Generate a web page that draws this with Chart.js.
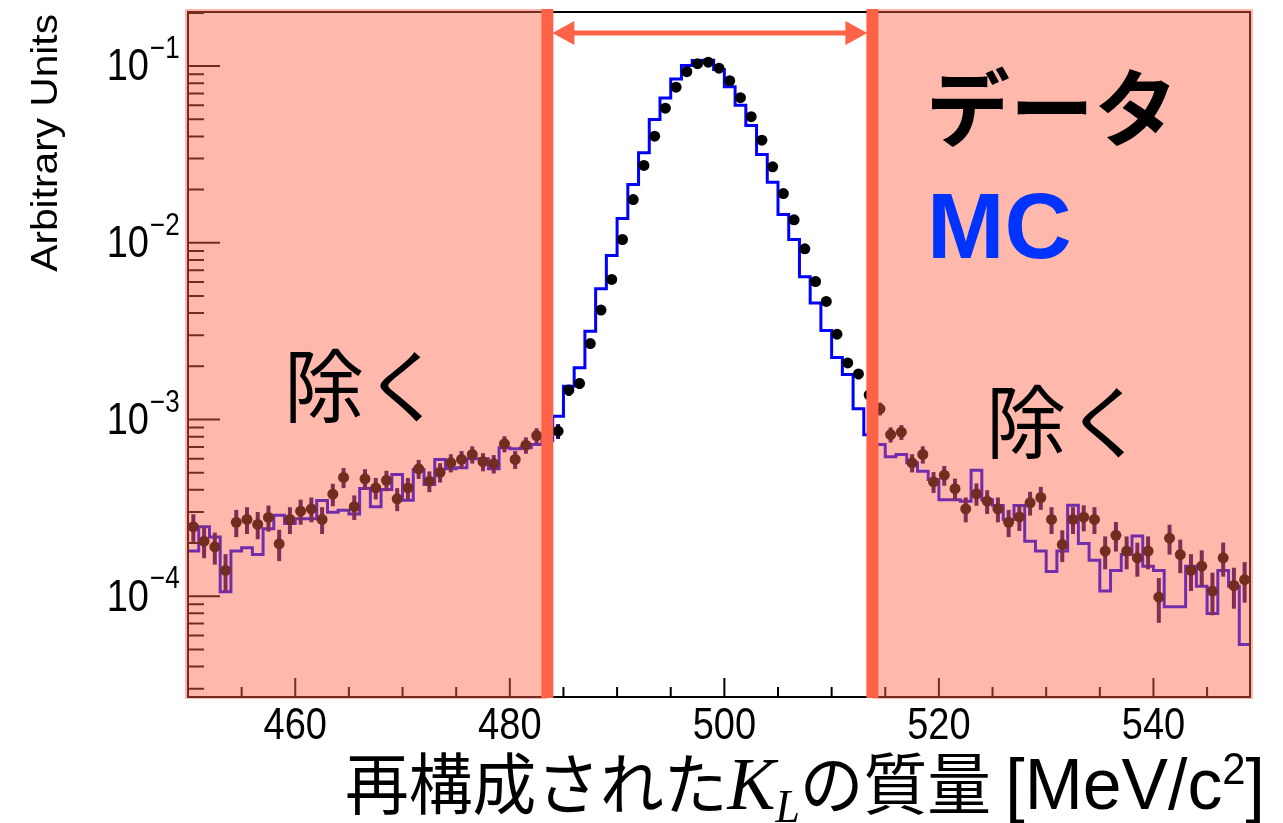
<!DOCTYPE html>
<html>
<head>
<meta charset="utf-8">
<script src="https://cdn.jsdelivr.net/npm/chart.js@4.4.0/dist/chart.umd.min.js"></script>
<style>
  html, body { margin: 0; padding: 0; background: #ffffff; }
  canvas { display: block; }
</style>
</head>
<body>
<canvas id="chart" width="1283" height="823"></canvas>
<script>
// Histogram binning: 1 MeV/c^2 bins starting at 450
const binLow = 450;
const binWidth = 1;

// Measured data (normalised), one value per bin
const dataValues = [
  2.47e-4, 2.05e-4, 1.90e-4, 1.40e-4, 2.62e-4, 2.72e-4, 2.55e-4, 2.79e-4, 1.98e-4, 2.72e-4,
  3.03e-4, 3.12e-4, 2.72e-4, 3.78e-4, 4.70e-4, 3.21e-4, 4.62e-4, 4.10e-4, 4.53e-4, 3.56e-4,
  4.10e-4, 5.26e-4, 4.48e-4, 5.03e-4, 5.69e-4, 5.94e-4, 6.34e-4, 5.77e-4, 5.62e-4, 7.28e-4,
  5.94e-4, 7.16e-4, 8.11e-4, 8.40e-4, 8.59e-4, 1.466e-3, 1.60e-3, 2.69e-3, 4.16e-3, 6.20e-3,
  1.044e-2, 1.757e-2, 2.74e-2, 4.01e-2, 5.78e-2, 7.60e-2, 9.29e-2, 0.1031, 0.1052, 0.0973,
  0.0826, 0.0662, 0.0517, 0.0381, 0.0269, 0.0190, 1.349e-2, 9.24e-3, 6.04e-3, 4.66e-3,
  3.04e-3, 2.09e-3, 1.81e-3, 1.38e-3, 1.15e-3, 8.22e-4, 8.48e-4, 5.69e-4, 6.34e-4, 4.44e-4,
  4.84e-4, 4.06e-4, 3.12e-4, 3.80e-4, 3.45e-4, 3.12e-4, 2.62e-4, 2.81e-4, 3.38e-4, 3.62e-4,
  2.72e-4, 1.96e-4, 2.72e-4, 2.80e-4, 2.72e-4, 1.80e-4, 2.21e-4, 1.80e-4, 1.65e-4, 1.80e-4,
  9.87e-5, 2.13e-4, 1.72e-4, 1.40e-4, 1.48e-4, 1.07e-4, 1.65e-4, 1.15e-4, 1.24e-4
];

// Statistical uncertainty of each data bin, in units of 1e-5
const errorUnit = 1e-5;
const dataErrors = [
  4.4, 4.1, 3.9, 3.3, 4.6, 4.7, 4.5, 4.7, 4.0, 4.7,
  4.9, 5.0, 4.7, 5.5, 6.1, 5.1, 6.1, 5.7, 6.0, 5.3,
  5.7, 6.5, 6.0, 6.3, 6.7, 6.9, 7.1, 6.8, 6.7, 7.6,
  6.9, 7.6, 8.1, 8.2, 8.3, 10.8, 11.3, 14.7, 18.3, 22.3,
  28.9, 37.5, 46.8, 56.7, 68, 78, 86, 91, 92, 88,
  81, 73, 64, 55, 46, 39, 33, 27, 22, 19,
  15.6, 12.9, 12.0, 10.5, 9.6, 8.1, 8.2, 6.7, 7.1, 6.0,
  6.2, 5.7, 5.0, 5.5, 5.3, 5.0, 4.6, 4.7, 5.2, 5.4,
  4.7, 4.0, 4.7, 4.7, 4.7, 3.8, 4.2, 3.8, 3.6, 3.8,
  2.8, 4.1, 3.7, 3.3, 3.4, 2.9, 3.6, 3.0, 3.2
];

// Simulation (MC), one value per bin
const mcValues = [
  1.80e-4, 2.47e-4, 2.16e-4, 1.06e-4, 1.80e-4, 1.88e-4, 1.72e-4, 2.41e-4, 2.87e-4, 2.58e-4,
  2.74e-4, 2.74e-4, 3.48e-4, 2.99e-4, 3.07e-4, 2.92e-4, 4.07e-4, 3.21e-4, 4.02e-4, 4.89e-4,
  3.49e-4, 5.21e-4, 4.29e-4, 5.94e-4, 5.26e-4, 5.33e-4, 6.00e-4, 6.00e-4, 5.26e-4, 6.92e-4,
  6.83e-4, 6.92e-4, 7.22e-4, 7.60e-4, 1.044e-3, 1.54e-3, 1.96e-3, 3.16e-3, 5.50e-3, 8.48e-3,
  1.373e-2, 2.138e-2, 3.23e-2, 4.99e-2, 6.60e-2, 8.44e-2, 0.1006, 0.1075, 0.1080, 0.0955,
  0.0765, 0.0601, 0.0461, 0.0316, 0.0220, 1.445e-2, 1.044e-2, 6.43e-3, 4.57e-3, 3.19e-3,
  2.24e-3, 1.80e-3, 1.15e-3, 8.20e-4, 7.22e-4, 6.15e-4, 6.34e-4, 5.69e-4, 5.10e-4, 4.57e-4,
  3.52e-4, 3.52e-4, 3.45e-4, 5.16e-4, 3.52e-4, 3.26e-4, 2.72e-4, 3.26e-4, 2.05e-4, 1.80e-4,
  1.38e-4, 1.80e-4, 3.27e-4, 1.99e-4, 1.60e-4, 1.07e-4, 1.40e-4, 1.72e-4, 2.19e-4, 1.48e-4,
  1.40e-4, 8.71e-5, 8.71e-5, 1.48e-4, 1.14e-4, 7.98e-5, 1.40e-4, 1.14e-4, 5.33e-5
];

// Axis ticks and labels
const xMajorTicks = [460, 480, 500, 520, 540];
const xMinorTicks = [455, 465, 470, 475, 485, 490, 495, 505, 510, 515, 525, 530, 535, 545];
const yMajorTicks = [1e-1, 1e-2, 1e-3, 1e-4];
const yTickExponents = ['\u22121', '\u22122', '\u22123', '\u22124'];
const yMinorMantissas = [2, 3, 4, 5, 6, 7, 8, 9];
const yMinorDecades = [1e-5, 1e-4, 1e-3, 1e-2, 1e-1];

// Signal window (kept) between the two cut lines
const cutLow = 483.5;
const cutHigh = 513.8;

const xRange = [450, 549];
const yRange = [2.69e-5, 0.2023];

const nBins = dataValues.length;
const dataPoints = dataValues.map((v, i) => ({ x: binLow + (i + 0.5) * binWidth, y: v }));
const mcPoints = mcValues.map((v, i) => ({ x: binLow + i * binWidth, y: v }));
mcPoints.push({ x: binLow + nBins * binWidth, y: mcValues[nBins - 1] });

const SANS = '"Liberation Sans", Arial, sans-serif';
const CJK = '"Noto Sans CJK JP", sans-serif';
const SERIF = '"Liberation Serif", "Times New Roman", serif';

function stretchedText(ctx, text, x, y, font, sy, align, baseline, color) {
  ctx.save();
  ctx.translate(x, y);
  ctx.scale(1, sy);
  ctx.font = font;
  ctx.textAlign = align;
  ctx.textBaseline = baseline;
  ctx.fillStyle = color || '#000';
  ctx.fillText(text, 0, 0);
  ctx.restore();
}

const decorations = {
  id: 'decorations',
  beforeDatasetDraw(chart, args) {
    if (args.index !== 0) return;
    // vertical error bars for the data points
    const { ctx, scales: { x, y } } = chart;
    ctx.save();
    ctx.strokeStyle = '#1a0060';
    ctx.lineWidth = 4;
    dataValues.forEach((v, i) => {
      const e = dataErrors[i] * errorUnit;
      const px = x.getPixelForValue(binLow + (i + 0.5) * binWidth);
      ctx.beginPath();
      ctx.moveTo(px, y.getPixelForValue(v + e));
      ctx.lineTo(px, y.getPixelForValue(Math.max(v - e, yRange[0])));
      ctx.stroke();
    });
    ctx.restore();
  },
  afterDatasetsDraw(chart) {
    const { ctx, chartArea: a, scales: { x, y } } = chart;
    ctx.save();

    // frame and ticks
    ctx.strokeStyle = '#000';
    ctx.lineWidth = 2;
    ctx.strokeRect(a.left, a.top, a.right - a.left, a.bottom - a.top);
    ctx.beginPath();
    xMajorTicks.forEach(t => { const px = x.getPixelForValue(t); ctx.moveTo(px, a.bottom); ctx.lineTo(px, a.bottom - 19); });
    xMinorTicks.forEach(t => { const px = x.getPixelForValue(t); ctx.moveTo(px, a.bottom); ctx.lineTo(px, a.bottom - 10); });
    yMajorTicks.forEach(t => { const py = y.getPixelForValue(t); ctx.moveTo(a.left, py); ctx.lineTo(a.left + 32, py); });
    yMinorDecades.forEach(d => yMinorMantissas.forEach(m => {
      const v = d * m;
      if (v <= yRange[0] || v >= yRange[1]) return;
      const py = y.getPixelForValue(v);
      ctx.moveTo(a.left, py); ctx.lineTo(a.left + 16, py);
    }));
    ctx.stroke();

    // shaded rejected regions
    const xl = x.getPixelForValue(cutLow);
    const xh = x.getPixelForValue(cutHigh);
    ctx.fillStyle = 'rgba(255, 99, 71, 0.45)';
    ctx.fillRect(a.left - 3, a.top - 3, xl - a.left + 3, a.bottom - a.top + 5);
    ctx.fillRect(xh, a.top - 3, a.right - xh + 3, a.bottom - a.top + 5);

    // cut lines
    ctx.strokeStyle = 'rgb(255, 99, 71)';
    ctx.lineWidth = 12;
    ctx.beginPath();
    ctx.moveTo(xl, a.top - 3); ctx.lineTo(xl, a.bottom + 1);
    ctx.moveTo(xh, a.top - 3); ctx.lineTo(xh, a.bottom + 1);
    ctx.stroke();

    // double arrow between the cuts
    const ay = 33, head = 22, half = 12;
    const x0 = xl + 5, x1 = xh - 5;
    ctx.lineWidth = 5;
    ctx.beginPath();
    ctx.moveTo(x0 + head - 2, ay); ctx.lineTo(x1 - head + 2, ay);
    ctx.stroke();
    ctx.fillStyle = 'rgb(255, 99, 71)';
    ctx.beginPath();
    ctx.moveTo(x0, ay); ctx.lineTo(x0 + head, ay - half); ctx.lineTo(x0 + head, ay + half); ctx.closePath();
    ctx.moveTo(x1, ay); ctx.lineTo(x1 - head, ay - half); ctx.lineTo(x1 - head, ay + half); ctx.closePath();
    ctx.fill();

    // x tick labels
    xMajorTicks.forEach(t => {
      stretchedText(ctx, String(t), x.getPixelForValue(t), 727, '38px ' + SANS, 1.18, 'center', 'middle');
    });

    // y tick labels 10^n
    yMajorTicks.forEach((t, i) => {
      const py = y.getPixelForValue(t);
      stretchedText(ctx, '10', 149, py + 2, '38px ' + SANS, 1.18, 'right', 'middle');
      stretchedText(ctx, yTickExponents[i], 150, py - 8, '26px ' + SANS, 1.18, 'left', 'alphabetic');
    });

    // y axis title
    ctx.save();
    ctx.translate(57, 14);
    ctx.rotate(-Math.PI / 2);
    ctx.scale(1.13, 1);
    ctx.font = '36px ' + SANS;
    ctx.textAlign = 'right';
    ctx.textBaseline = 'alphabetic';
    ctx.fillStyle = '#000';
    ctx.fillText('Arbitrary Units', 0, 0);
    ctx.restore();

    // x axis title
    const parts = [
      { t: '再構成された', f: '64px ' + CJK, dy: 0 },
      { t: 'K', f: 'italic 72px ' + SERIF, dy: 0 },
      { t: 'L', f: 'italic 44px ' + SERIF, dy: 13 },
      { t: 'の質量 ', f: '64px ' + CJK, dy: 0 },
      { t: '[MeV/c', f: '70px ' + SANS, dy: 0 },
      { t: '2', f: '42px ' + SANS, dy: -25 },
      { t: ']', f: '70px ' + SANS, dy: 0 }
    ];
    let total = 0;
    parts.forEach(p => { ctx.font = p.f; p.w = ctx.measureText(p.t).width; total += p.w; });
    const sx = 920 / total;
    let cx = 345;
    parts.forEach(p => {
      ctx.save();
      ctx.translate(cx, 809 + p.dy);
      ctx.scale(sx, 1.04);
      ctx.font = p.f;
      ctx.textAlign = 'left';
      ctx.textBaseline = 'alphabetic';
      ctx.fillStyle = '#000';
      ctx.fillText(p.t, 0, 0);
      ctx.restore();
      cx += p.w * sx;
    });

    // annotations
    stretchedText(ctx, 'データ', 926, 140, '700 84px ' + CJK, 1, 'left', 'alphabetic', '#000');
    stretchedText(ctx, 'MC', 927, 258, '700 93px ' + SANS, 1, 'left', 'alphabetic', '#0033ff');
    stretchedText(ctx, '除く', 284, 416, '400 80px ' + CJK, 1, 'left', 'alphabetic', '#000');
    stretchedText(ctx, '除く', 986, 452, '400 80px ' + CJK, 1, 'left', 'alphabetic', '#000');

    ctx.restore();
  }
};

new Chart(document.getElementById('chart'), {
  type: 'line',
  data: {
    datasets: [
      {
        label: 'データ',
        type: 'scatter',
        data: dataPoints,
        showLine: false,
        pointRadius: 5.5,
        pointHoverRadius: 5.5,
        pointBackgroundColor: '#000',
        pointBorderWidth: 0,
        borderColor: '#000'
      },
      {
        label: 'MC',
        data: mcPoints,
        stepped: 'before',
        borderColor: '#0000ff',
        borderWidth: 3,
        pointRadius: 0,
        fill: false,
        tension: 0
      }
    ]
  },
  options: {
    responsive: false,
    devicePixelRatio: 1,
    animation: false,
    events: [],
    layout: { padding: { left: 188, right: 33, top: 12, bottom: 126 } },
    plugins: { legend: { display: false }, tooltip: { enabled: false } },
    scales: {
      x: { type: 'linear', min: xRange[0], max: xRange[1], display: false },
      y: { type: 'logarithmic', min: yRange[0], max: yRange[1], display: false }
    }
  },
  plugins: [decorations]
});
</script>
</body>
</html>
